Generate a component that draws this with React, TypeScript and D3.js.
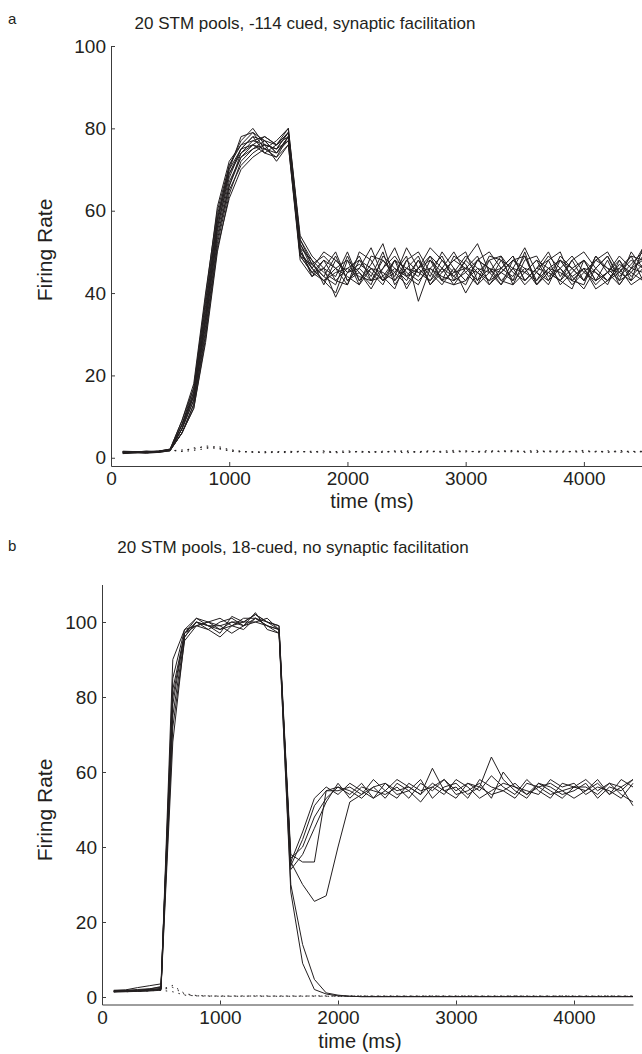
import { useEffect, useRef } from 'react';
import * as d3 from 'd3';

// sample times (ms), one bin every 100 ms
const times = [
  100, 200, 300, 400, 500, 600, 700, 800, 900, 1000,
  1100, 1200, 1300, 1400, 1500, 1600, 1700, 1800, 1900, 2000,
  2100, 2200, 2300, 2400, 2500, 2600, 2700, 2800, 2900, 3000,
  3100, 3200, 3300, 3400, 3500, 3600, 3700, 3800, 3900, 4000,
  4100, 4200, 4300, 4400, 4500,
];

const xTicks = [0, 1000, 2000, 3000, 4000];
const yTicks = [0, 20, 40, 60, 80, 100];

// panel a: 14 cued pools (solid)
const cuedA = [
  [1.2,1.3,1.2,1.5,1.8, 8,16,36,58,69,74,77,76,75,79, 52,47,44,49,43,46,51,44,48,41, 46,51,48,44,42,48,50,46,44,49, 42,46,48,44,41,46,49,44,47,50],
  [1.5,1.4,1.6,1.4,2.0, 7,14,32,55,67,73,76,78,76,78, 50,46,43,40,48,45,42,49,46,43, 48,44,50,46,40,45,48,43,46,51, 45,42,48,46,43,49,45,42,46,48],
  [1.0,1.2,1.1,1.3,1.7, 6,12,28,50,64,72,75,77,74,77, 49,45,48,43,42,48,46,43,45,49, 38,46,43,49,47,42,45,49,42,45, 48,46,43,41,48,45,43,47,45,49],
  [1.6,1.5,1.4,1.6,2.1, 9,18,40,60,71,76,79,75,77,80, 54,49,46,44,50,43,47,52,43,46, 49,42,46,44,48,52,45,46,49,43, 46,50,44,48,43,46,49,43,50,46],
  [1.3,1.4,1.5,1.5,1.9, 7,15,34,56,68,75,76,74,73,78, 51,48,42,48,45,49,43,46,51,44, 42,48,45,48,50,43,46,42,48,45, 43,48,50,43,46,42,45,48,43,51],
  [1.1,1.3,1.3,1.4,1.8, 6,13,30,52,65,71,74,76,72,76, 48,44,46,39,45,47,45,42,48,44, 46,49,43,42,46,45,43,48,46,42, 45,43,46,49,45,43,48,42,46,45],
  [1.4,1.2,1.5,1.6,2.0, 8,17,38,59,70,75,78,77,76,79, 53,47,49,46,44,42,49,48,44,51, 46,43,48,45,46,49,42,45,48,46, 42,45,43,48,50,46,43,45,49,48],
  [1.2,1.5,1.3,1.5,1.9, 7,14,33,54,66,73,75,76,75,77, 50,45,46,50,43,45,41,46,49,45, 43,46,49,43,45,48,46,43,42,48, 49,44,46,42,45,48,46,43,45,43],
  [1.5,1.3,1.4,1.4,2.0, 8,15,35,57,70,78,79,77,74,78, 52,46,43,45,46,48,44,50,42,46, 45,43,46,50,45,42,48,49,45,43, 46,48,42,45,48,43,45,49,46,51],
  [1.3,1.4,1.2,1.5,1.8, 6,12,29,51,63,70,73,75,73,76, 49,47,44,42,49,43,46,45,43,48, 50,45,42,46,43,46,43,45,48,49, 43,46,45,43,42,49,46,45,43,46],
  [1.1,1.2,1.4,1.3,1.7, 7,16,37,58,71,77,80,76,75,79, 51,44,48,46,42,50,48,43,46,44, 48,42,45,48,46,43,49,48,43,46, 45,49,46,43,46,45,42,48,44,47],
  [1.4,1.5,1.5,1.6,2.1, 9,17,39,61,72,76,77,78,76,80, 53,48,45,43,46,44,43,48,45,42, 46,48,43,45,49,46,45,42,46,45, 48,43,49,46,43,48,50,45,48,46],
  [1.2,1.3,1.3,1.4,1.9, 6,13,31,53,66,74,76,75,74,78, 50,46,50,48,45,46,43,44,41,48, 45,46,44,43,48,45,42,46,49,43, 46,45,43,46,48,43,45,46,42,44],
  [1.5,1.4,1.6,1.5,2.0, 8,15,34,56,69,75,78,74,76,79, 49,45,43,46,48,42,46,43,48,46, 44,49,46,42,43,48,46,45,43,50, 42,45,48,44,46,41,43,46,49,43],
];

// panel a: uncued pools (dotted)
const uncuedA = [
  [1.4,1.5,1.3,1.6,1.8, 1.6,2.4,2.6,2.2,1.8, 1.5,1.4,1.3,1.5,1.4, 1.6,1.3,1.5,1.2,1.4, 1.5,1.3,1.6,1.4,1.2, 1.5,1.7,1.4,1.3,1.6, 1.5,1.8,1.4,1.6,1.3, 1.5,1.4,1.7,1.5,1.3, 1.6,1.4,1.5,1.3,1.5],
  [1.3,1.4,1.5,1.4,1.7, 1.9,2.1,2.9,2.5,1.6, 1.4,1.5,1.2,1.3,1.6, 1.4,1.6,1.2,1.5,1.7, 1.3,1.5,1.4,1.7,1.5, 1.3,1.4,1.6,1.8,1.4, 1.6,1.3,1.7,1.4,1.6, 1.8,1.5,1.3,1.6,1.8, 1.4,1.7,1.3,1.6,1.4],
  [1.5,1.3,1.4,1.5,1.9, 1.5,1.8,2.2,2.8,2.0, 1.6,1.3,1.5,1.4,1.2, 1.5,1.4,1.7,1.4,1.3, 1.6,1.4,1.3,1.5,1.7, 1.4,1.6,1.3,1.5,1.7, 1.3,1.5,1.6,1.8,1.5, 1.3,1.7,1.5,1.4,1.6, 1.5,1.3,1.8,1.5,1.6],
];

// panel b: 8 cued pools (solid), two of them decay
const cuedB = [
  [1.5,1.6,1.8,2.0,2.2, 72,95,99,98,96,99,98,101,99,98, 36,30,25.5,27,40,52,54,56,53,57, 55,52,56,58,54,55,57,53,60,56, 54,57,55,53,56,58,55,57,54,52],
  [1.8,1.9,2.5,3.0,3.5, 80,97,100,99,97,101.5,100,102,100,99, 38,36,36,55,56,54,57,53,55,58, 56,54,61,55,53,57,55,59,56,54, 58,55,53,57,56,55,58,54,56,58],
  [1.3,1.4,1.5,1.6,1.8, 90,98,101,100,99,97,99,102.5,98,97, 37,40,48,53,56,55,53,56,57,54, 55,58,53,56,57,54,56,64,58,55, 53,57,56,54,55,57,53,56,55,58],
  [1.6,1.5,1.7,1.8,2.0, 68,96,100,98,100,101,99,100,101,98, 35,42,51,55,55,56,54,58,55,53, 57,55,56,54,58,56,53,55,57,56, 55,54,58,56,57,54,56,55,53,57],
  [1.4,1.6,1.5,1.7,2.1, 85,98,99,100,98,99,101,101,99,98, 34,38,45,52,57,53,56,55,54,56, 53,57,55,58,55,57,56,54,55,53, 57,56,54,55,56,56,54,57,56,51],
  [1.7,1.8,2.0,2.2,2.6, 78,97,101,99,99,100,100,102,100,99, 36,44,53,56,54,57,55,53,57,55, 56,54,57,55,56,53,58,56,55,57, 54,56,57,55,53,55,57,54,58,56],
  [1.5,1.7,1.6,1.9,2.3, 75,96,100,99,98,100,99,101,100,98, 28,9,2,0.8,0.3,0.2,0.1,0.1,0.1,0.1, 0.1,0.1,0.1,0.1,0.1,0.1,0.1,0.1,0.1,0.1, 0.1,0.1,0.1,0.1,0.1,0.1,0.1,0.1,0.1,0.1],
  [1.6,1.5,1.8,2.1,2.8, 82,97,99,100,101,99,100,100,99,97, 30,14,4.7,1.1,0.5,0.2,0.1,0.1,0.1,0.1, 0.1,0.1,0.1,0.1,0.1,0.1,0.1,0.1,0.1,0.1, 0.1,0.1,0.1,0.1,0.1,0.1,0.1,0.1,0.1,0.1],
];

// panel b: uncued pools (dotted)
const uncuedB = [
  [1.5,1.6,1.7,1.6,1.9, 2.6,0.7,0.3,0.2,0.3, 0.2,0.3,0.2,0.2,0.3, 0.2,0.3,0.2,0.2,0.3, 0.2,0.2,0.3,0.2,0.2, 0.3,0.2,0.2,0.3,0.2, 0.2,0.3,0.2,0.2,0.3, 0.2,0.2,0.3,0.2,0.2, 0.3,0.2,0.2,0.3,0.2],
  [1.4,1.5,1.6,1.8,2.0, 3.1,0.9,0.4,0.3,0.2, 0.3,0.2,0.3,0.3,0.2, 0.3,0.2,0.3,0.3,0.2, 0.3,0.3,0.2,0.3,0.3, 0.2,0.3,0.3,0.2,0.3, 0.3,0.2,0.3,0.3,0.2, 0.3,0.3,0.2,0.3,0.3, 0.2,0.3,0.3,0.2,0.3],
  [1.6,1.4,1.5,1.7,1.8, 1.4,0.5,0.3,0.3,0.2, 0.2,0.2,0.3,0.2,0.2, 0.2,0.2,0.3,0.2,0.2, 0.2,0.3,0.2,0.2,0.2, 0.2,0.2,0.3,0.2,0.2, 0.3,0.2,0.2,0.2,0.3, 0.2,0.2,0.2,0.3,0.2, 0.2,0.2,0.3,0.2,0.2],
];

const FONT = '"Liberation Sans", Arial, Helvetica, sans-serif';
const INK = '#231f20';
const AXIS = '#3c3c3c';

const drawPanel = (svg, p) => {
  const x = d3.scaleLinear().domain([0, 4500]).range(p.xRange);
  const y = d3.scaleLinear().domain(p.yDomain).range(p.yRange);

  const line = d3.line()
    .x((d, i) => x(times[i]))
    .y(d => y(d));

  const g = svg.append('g');

  // uncued pools, dotted
  g.selectAll('path.uncued')
    .data(p.uncued)
    .enter()
    .append('path')
    .attr('class', 'uncued')
    .attr('d', line)
    .attr('fill', 'none')
    .attr('stroke', INK)
    .attr('stroke-width', 1)
    .attr('stroke-dasharray', '1.5,5');

  // cued pools, solid
  g.selectAll('path.cued')
    .data(p.cued)
    .enter()
    .append('path')
    .attr('class', 'cued')
    .attr('d', line)
    .attr('fill', 'none')
    .attr('stroke', INK)
    .attr('stroke-width', 1);

  // x axis, ticks pointing inward (matlab style)
  g.append('g')
    .attr('transform', `translate(0,${p.yRange[0]})`)
    .call(d3.axisBottom(x).tickValues(xTicks).tickFormat(d3.format('d'))
      .tickSizeInner(-4).tickSizeOuter(0).tickPadding(6))
    .call(a => a.attr('font-size', 19).attr('font-family', FONT))
    .call(a => a.select('.domain').attr('stroke', AXIS))
    .call(a => a.selectAll('.tick line').attr('stroke', AXIS))
    .call(a => a.selectAll('text').attr('fill', INK));

  // y axis
  g.append('g')
    .attr('transform', `translate(${p.xRange[0]},0)`)
    .call(d3.axisLeft(y).tickValues(yTicks).tickFormat(d3.format('d'))
      .tickSizeInner(-4).tickSizeOuter(0).tickPadding(5))
    .call(a => a.attr('font-size', 19).attr('font-family', FONT))
    .call(a => a.select('.domain').attr('stroke', AXIS))
    .call(a => a.selectAll('.tick line').attr('stroke', AXIS))
    .call(a => a.selectAll('text').attr('fill', INK));

  // title and panel letter
  g.append('text')
    .attr('x', p.titleX)
    .attr('y', p.titleY)
    .attr('text-anchor', 'middle')
    .style('font-family', FONT)
    .style('font-size', '17px')
    .style('fill', INK)
    .text(p.title);

  g.append('text')
    .attr('x', 8)
    .attr('y', p.letterY)
    .style('font-family', FONT)
    .style('font-size', '15px')
    .style('fill', INK)
    .text(p.letter);

  // axis labels
  g.append('text')
    .attr('x', p.xLabelX)
    .attr('y', p.xLabelY)
    .attr('text-anchor', 'middle')
    .style('font-family', FONT)
    .style('font-size', '20px')
    .style('fill', INK)
    .text('time (ms)');

  g.append('text')
    .attr('transform', 'rotate(-90)')
    .attr('x', -p.yLabelY)
    .attr('y', 52)
    .attr('text-anchor', 'middle')
    .style('font-family', FONT)
    .style('font-size', '21px')
    .style('fill', INK)
    .text('Firing Rate');
};

const App = () => {
  const svgRef = useRef(null);

  useEffect(() => {
    const svg = d3.select(svgRef.current);
    svg.selectAll('*').remove();

    drawPanel(svg, {
      cued: cuedA,
      uncued: uncuedA,
      xRange: [111, 643],
      yDomain: [-2, 100],
      yRange: [466, 46],
      title: '20 STM pools, -114 cued, synaptic facilitation',
      titleX: 305,
      titleY: 29,
      letter: 'a',
      letterY: 24,
      xLabelX: 372,
      xLabelY: 508,
      yLabelY: 250,
    });

    drawPanel(svg, {
      cued: cuedB,
      uncued: uncuedB,
      xRange: [102, 633],
      yDomain: [-2, 110],
      yRange: [1004.5, 584.5],
      title: '20 STM pools, 18-cued, no synaptic facilitation',
      titleX: 293,
      titleY: 553,
      letter: 'b',
      letterY: 551,
      xLabelX: 360,
      xLabelY: 1048,
      yLabelY: 810,
    });
  }, []);

  return (
    <svg
      ref={svgRef}
      width={642}
      height={1054}
      style={{ position: 'absolute', left: 0, top: 0, background: '#fff' }}
    />
  );
};

export default App;
